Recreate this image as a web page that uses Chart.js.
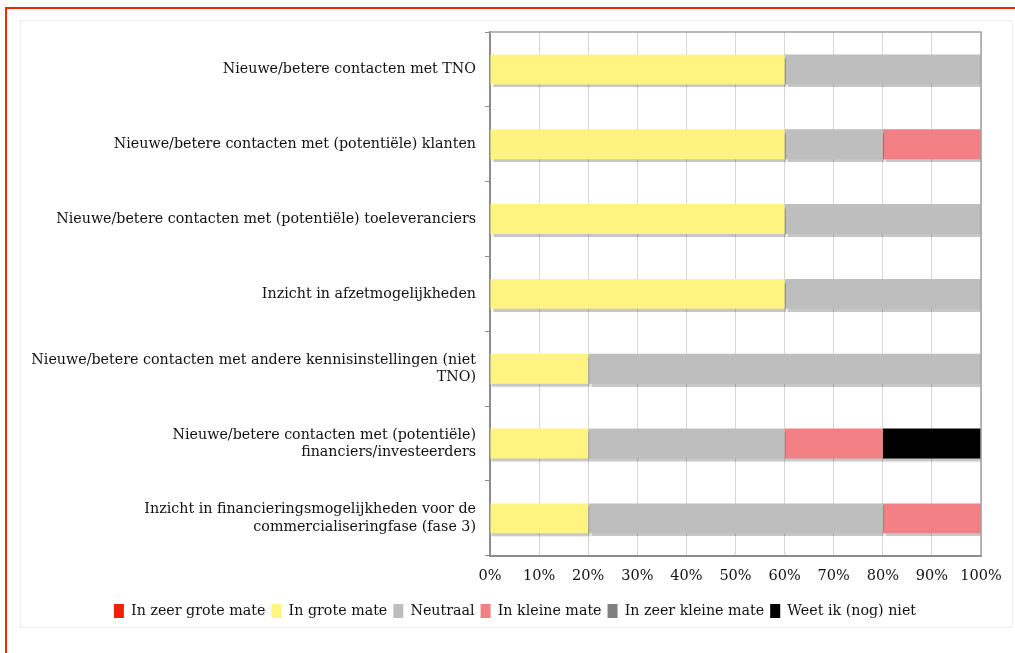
<!DOCTYPE html>
<html>
<head>
<meta charset="utf-8">
<script src="https://cdn.jsdelivr.net/npm/chart.js@4/dist/chart.umd.min.js"></script>
<style>
  body { margin: 0; background: #fff; width: 1015px; height: 653px; overflow: hidden; position: relative; }
  #frame { position: absolute; left: 5px; top: 7px; width: 1100px; height: 700px; border-left: 2px solid #f22800; border-top: 2px solid #f22800; }
  #panel { position: absolute; left: 20px; top: 20px; width: 991px; height: 606px; border: 1px solid #eeeeee; background: #fff; }
  #chart { position: absolute; left: 0; top: 0; }
</style>
</head>
<body>
<div id="frame"></div>
<div id="panel"><canvas id="chart" width="991" height="610"></canvas></div>
<script>
// categories (top to bottom)
var categories = [
    'Nieuwe/betere contacten met TNO',
    'Nieuwe/betere contacten met (potentiële) klanten',
    'Nieuwe/betere contacten met (potentiële) toeleveranciers',
    'Inzicht in afzetmogelijkheden',
    ['Nieuwe/betere contacten met andere kennisinstellingen (niet', 'TNO)'],
    ['Nieuwe/betere contacten met (potentiële)', 'financiers/investeerders'],
    ['Inzicht in financieringsmogelijkheden voor de', 'commercialiseringfase (fase 3)']
];

// percentages per answer
var zeerGroteMate  = [0, 0, 0, 0, 0, 0, 0];
var groteMate      = [60, 60, 60, 60, 20, 20, 20];
var neutraal       = [40, 20, 40, 40, 80, 40, 60];
var kleineMate     = [0, 20, 0, 0, 0, 20, 20];
var zeerKleineMate = [0, 0, 0, 0, 0, 0, 0];
var weetNiet       = [0, 0, 0, 0, 0, 20, 0];

var xTicks = [0, 10, 20, 30, 40, 50, 60, 70, 80, 90, 100];

var font = "'DejaVu Serif', Georgia, serif";

// soft shadow under the bars + box round the plot
var barShadow = {
    id: 'barShadow',
    afterLayout: function(chart) {
        // centre the legend under the whole panel, not the padded box
        chart.legend.left += 28;
    },
    beforeDatasetsDraw: function(chart) {
        var ctx = chart.ctx;
        ctx.save();
        ctx.shadowColor = 'rgba(0,0,0,0.22)';
        ctx.shadowOffsetY = 3;
        ctx.shadowOffsetX = 1;
        ctx.shadowBlur = 1;
    },
    afterDatasetsDraw: function(chart) {
        chart.ctx.restore();
    },
    afterDraw: function(chart) {
        var a = chart.chartArea, ctx = chart.ctx;
        ctx.save();
        ctx.strokeStyle = '#a3a3a3';
        ctx.lineWidth = 1.5;
        ctx.beginPath();
        ctx.moveTo(a.left, a.top);
        ctx.lineTo(a.right, a.top);
        ctx.lineTo(a.right, a.bottom);
        ctx.stroke();
        ctx.restore();
    }
};

function ds(label, data, color) {
    return { label: label, data: data, backgroundColor: color, borderWidth: 0,
             barPercentage: 0.8, categoryPercentage: 0.5 };
}

var chart = new Chart(document.getElementById('chart').getContext('2d'), {
    type: 'bar',
    data: {
        labels: categories,
        datasets: [
            ds('In zeer grote mate', zeerGroteMate, '#ee2200'),
            ds('In grote mate', groteMate, '#fff480'),
            ds('Neutraal', neutraal, '#bebebe'),
            ds('In kleine mate', kleineMate, '#f27f84'),
            ds('In zeer kleine mate', zeerKleineMate, '#808080'),
            ds('Weet ik (nog) niet', weetNiet, '#000000')
        ]
    },
    plugins: [barShadow],
    options: {
        indexAxis: 'y',
        responsive: false,
        animation: false,
        layout: { padding: { top: 11, right: 31, left: 0, bottom: 3 } },
        scales: {
            x: {
                stacked: true,
                min: 0,
                max: 100,
                afterBuildTicks: function(scale) {
                    scale.ticks = xTicks.map(function(v) { return { value: v }; });
                },
                afterFit: function(scale) {
                    scale.height = 42;
                    scale.paddingLeft = 0;
                    scale.paddingRight = 0;
                },
                ticks: {
                    color: '#111',
                    font: { family: font, size: 14.5 },
                    padding: 12,
                    maxRotation: 0,
                    callback: function(v) { return v + '%'; }
                },
                grid: { color: '#d6d6d6', lineWidth: 1, drawTicks: false },
                border: { color: '#8c8c8c', width: 2 }
            },
            y: {
                stacked: true,
                afterFit: function(scale) {
                    scale.width = 469;
                    scale.paddingTop = 0;
                    scale.paddingBottom = 0;
                },
                ticks: {
                    color: '#111',
                    font: { family: font, size: 14.25 },
                    padding: 9
                },
                grid: { display: true, drawOnChartArea: false, offset: true, tickLength: 5, color: '#8c8c8c' },
                border: { color: '#8c8c8c', width: 2 }
            }
        },
        plugins: {
            legend: {
                position: 'bottom',
                labels: {
                    color: '#111',
                    font: { family: font, size: 14.25 },
                    boxWidth: 10,
                    boxHeight: 14,
                    padding: 6
                },
                onClick: null
            },
            tooltip: { enabled: false }
        }
    }
});
</script>
</body>
</html>
